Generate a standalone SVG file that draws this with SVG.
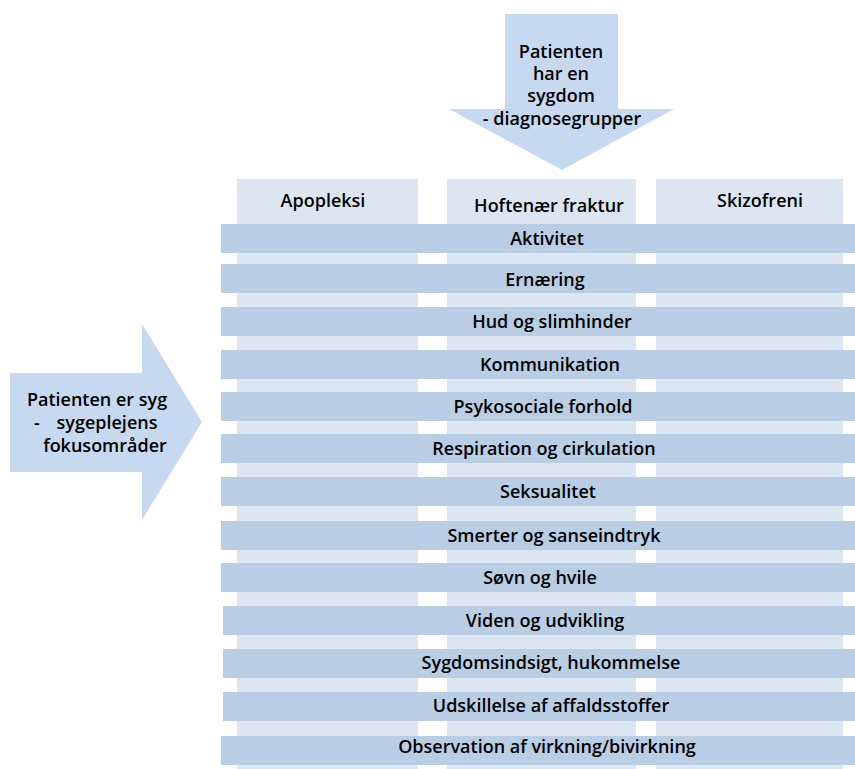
<svg xmlns="http://www.w3.org/2000/svg" width="855" height="769" viewBox="0 0 855 769">
<style>
text{font-family:"Open Sans","Liberation Sans",sans-serif;font-size:18px;font-weight:600;fill:#000;text-anchor:middle}
.arrow{fill:#C6D9F0}
.col{fill:#DCE6F2}
.bar{fill:#B9CDE5}
</style>
<rect width="855" height="769" fill="#fff"/>
<g id="top-arrow">
<polygon class="arrow" points="505,14 618,14 618,109 674,109 562,170 449,109 505,109"/>
<text x="561" y="58">Patienten</text>
<text x="561" y="80">har en</text>
<text x="561" y="102">sygdom</text>
<text x="562" y="125">- diagnosegrupper</text>
</g>
<g id="left-arrow">
<polygon class="arrow" points="10,373 142,373 142,324 202,422 142,520 142,472 10,472"/>
<text x="97" y="406">Patienten er syg</text>
<text x="37" y="429">-</text>
<text x="107" y="429">sygeplejens</text>
<text x="105" y="452">fokusområder</text>
</g>
<g id="columns">
<g id="col-apopleksi"><rect class="col" x="237" y="179" width="181" height="590"/><text x="323" y="207">Apopleksi</text></g>
<g id="col-hofte"><rect class="col" x="447" y="179" width="189" height="590"/><text x="549" y="212">Hoftenær fraktur</text></g>
<g id="col-skizofreni"><rect class="col" x="656" y="179" width="187" height="590"/><text x="760" y="207">Skizofreni</text></g>
</g>
<g id="bars">
<g id="b1"><rect class="bar" x="221" y="224" width="634" height="29"/><text x="547" y="245">Aktivitet</text></g>
<g id="b2"><rect class="bar" x="221" y="264" width="634" height="29"/><text x="545" y="286">Ernæring</text></g>
<g id="b3"><rect class="bar" x="221" y="307" width="634" height="29"/><text x="552" y="328">Hud og slimhinder</text></g>
<g id="b4"><rect class="bar" x="221" y="350" width="634" height="29"/><text x="550" y="371">Kommunikation</text></g>
<g id="b5"><rect class="bar" x="221" y="392" width="634" height="29"/><text x="543" y="413">Psykosociale forhold</text></g>
<g id="b6"><rect class="bar" x="221" y="434" width="634" height="29"/><text x="544" y="455">Respiration og cirkulation</text></g>
<g id="b7"><rect class="bar" x="221" y="477" width="634" height="29"/><text x="548" y="498">Seksualitet</text></g>
<g id="b8"><rect class="bar" x="221" y="521" width="634" height="29"/><text x="554" y="542">Smerter og sanseindtryk</text></g>
<g id="b9"><rect class="bar" x="221" y="563" width="634" height="29"/><text x="540" y="584">Søvn og hvile</text></g>
<g id="b10"><rect class="bar" x="223" y="606" width="632" height="29"/><text x="545" y="627">Viden og udvikling</text></g>
<g id="b11"><rect class="bar" x="223" y="649" width="632" height="29"/><text x="551" y="669">Sygdomsindsigt, hukommelse</text></g>
<g id="b12"><rect class="bar" x="223" y="692" width="632" height="29"/><text x="551" y="712">Udskillelse af affaldsstoffer</text></g>
<g id="b13"><rect class="bar" x="221" y="736" width="634" height="29"/><text x="547" y="753">Observation af virkning/bivirkning</text></g>
</g>
<g id="connectors"/>
</svg>
